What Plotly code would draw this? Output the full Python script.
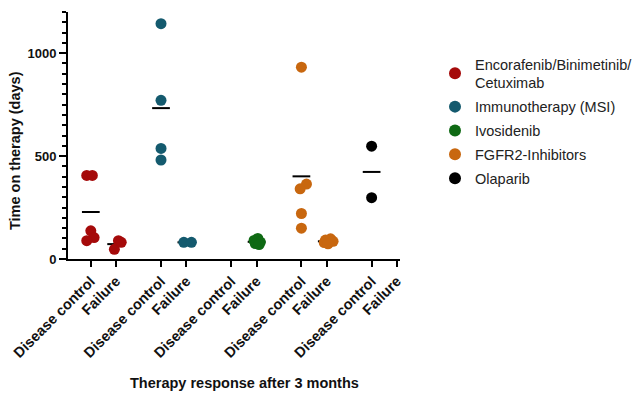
import plotly.graph_objects as go

# Time on therapy (days) per patient, split by response after 3 months
therapies = ["Encorafenib/Binimetinib/<br>Cetuximab", "Immunotherapy (MSI)",
             "Ivosidenib", "FGFR2-Inhibitors", "Olaparib"]
colors = ["#A50A0A", "#145A6E", "#0F6A14", "#C8670F", "#000000"]
response_labels = ["Disease control", "Failure"]

enco_dc = [406, 406, 137, 104, 89]
enco_fail = [47, 89, 81]
immuno_dc = [1143, 771, 537, 481]
immuno_fail = [81, 81]
ivo_dc = []
ivo_fail = [100, 90, 82, 75, 70]
fgfr2_dc = [932, 364, 341, 221, 150]
fgfr2_fail = [98, 92, 86, 80, 74]
olap_dc = [548, 298]
olap_fail = []

# small horizontal scatter so overlapping dots stay visible
enco_dc_jit = [-0.16, 0.06, 0.0, 0.13, -0.16]
enco_fail_jit = [-0.07, 0.09, 0.2]
immuno_dc_jit = [0, 0, 0, 0]
immuno_fail_jit = [-0.1, 0.2]
ivo_dc_jit = []
ivo_fail_jit = [0.05, -0.1, 0.15, -0.05, 0.1]
fgfr2_dc_jit = [0.0, 0.2, -0.05, 0.0, 0.0]
fgfr2_fail_jit = [0.15, -0.05, 0.25, -0.1, 0.05]
olap_dc_jit = [0, 0]
olap_fail_jit = []

groups = [
    (enco_dc, enco_dc_jit, enco_fail, enco_fail_jit),
    (immuno_dc, immuno_dc_jit, immuno_fail, immuno_fail_jit),
    (ivo_dc, ivo_dc_jit, ivo_fail, ivo_fail_jit),
    (fgfr2_dc, fgfr2_dc_jit, fgfr2_fail, fgfr2_fail_jit),
    (olap_dc, olap_dc_jit, olap_fail, olap_fail_jit),
]

FONT = "Liberation Sans, Arial, sans-serif"
GROUP_STEP = 2.77
fig = go.Figure()
tickvals, ticktext = [], []

for g, (name, color, (dc, dcj, fl, flj)) in enumerate(zip(therapies, colors, groups)):
    base = g * GROUP_STEP
    xs, ys = [], []
    for k, (vals, jit) in enumerate([(dc, dcj), (fl, flj)]):
        pos = base + k
        tickvals.append(pos)
        ticktext.append(response_labels[k])
        if vals:
            mean = sum(vals) / len(vals)
            fig.add_trace(go.Scatter(
                x=[pos - 0.35, pos + 0.35], y=[mean, mean], mode="lines",
                line=dict(color="black", width=2), showlegend=False,
                hoverinfo="skip", cliponaxis=False))
        xs += [pos + j for j in jit]
        ys += vals
    fig.add_trace(go.Scatter(
        x=xs, y=ys, mode="markers", name=name, legendgroup=name,
        marker=dict(color=color, size=11), cliponaxis=False))

fig.update_layout(
    width=633, height=402,
    margin=dict(l=68, r=233, t=12, b=143, autoexpand=False),
    plot_bgcolor="white", paper_bgcolor="white",
    font=dict(family=FONT, color="#1a1a1a"),
    showlegend=True,
    legend=dict(xref="container", yref="container", x=435 / 633, y=1 - 48 / 402,
                xanchor="left", yanchor="top",
                font=dict(size=14.5, color="#222"), tracegroupgap=2,
                itemsizing="constant", bgcolor="rgba(0,0,0,0)"),
    xaxis=dict(
        range=[-0.9, 12.2], tickvals=tickvals, ticktext=ticktext,
        tickangle=-45, showgrid=False, zeroline=False,
        showline=True, linecolor="black", linewidth=2,
        ticks="outside", ticklen=6, tickwidth=2, tickcolor="black",
        tickfont=dict(size=14.5, color="#111", family=FONT, weight="bold"),
    ),
    yaxis=dict(
        range=[0, 1200], tickvals=[0, 500, 1000], showgrid=False, zeroline=False,
        showline=True, linecolor="black", linewidth=2,
        ticks="outside", ticklen=7, tickwidth=2, tickcolor="black",
        tickfont=dict(size=13, color="#111", family=FONT, weight="bold"),
        minor=dict(dtick=50, ticks="outside", ticklen=4, tickwidth=1.5, tickcolor="black"),
    ),
    annotations=[
        dict(text="<b>Therapy response after 3 months</b>", xref="paper", yref="paper",
             x=(244 - 68) / 332, y=-(383 - 259) / 247, xanchor="center", yanchor="middle",
             showarrow=False, font=dict(size=14.5, color="#111")),
        dict(text="<b>Time on therapy (days)</b>", xref="paper", yref="paper",
             x=-(68 - 15) / 332, y=(259 - 151) / 247, xanchor="center", yanchor="middle",
             textangle=-90, showarrow=False, font=dict(size=14.5, color="#111")),
    ],
)

fig.write_html("out.html")
